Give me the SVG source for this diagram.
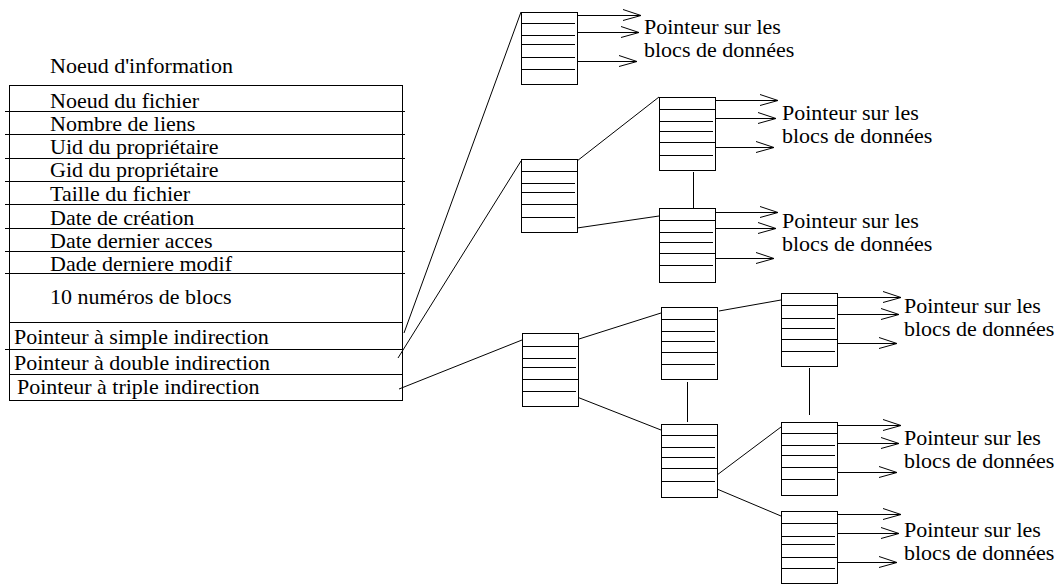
<svg xmlns="http://www.w3.org/2000/svg" width="1059" height="585" viewBox="0 0 1059 585">
<style>
text{font-family:'Liberation Serif','Times New Roman','DejaVu Serif',serif;font-size:22px;fill:#000}
.s{fill:none;stroke:#000;stroke-width:1}
.blk rect{fill:#fff;stroke:#000;stroke-width:1}
.blk line{stroke:#000;stroke-width:1}
.c line{stroke:#000;stroke-width:1}
.a{marker-end:url(#arr)}
</style>
<defs>
<marker id="arr" markerUnits="userSpaceOnUse" viewBox="-20 -10 22 20" markerWidth="22" markerHeight="20" refX="0" refY="0" orient="auto">
<path d="M-18,-6 L0,0 L-18,5" fill="none" stroke="#000" stroke-width="1"/>
</marker>
</defs>
<rect width="1059" height="585" fill="#fff"/>
<g id="inode">
<text x="50" y="73">Noeud d'information</text>
<rect class="s" x="9.5" y="85.5" width="393" height="315"/>
<g stroke="#000" stroke-width="1">
<line x1="5" y1="111.5" x2="405" y2="111.5"/>
<line x1="5" y1="134.5" x2="405" y2="134.5"/>
<line x1="5" y1="158.5" x2="405" y2="158.5"/>
<line x1="5" y1="181.5" x2="405" y2="181.5"/>
<line x1="5" y1="204.5" x2="405" y2="204.5"/>
<line x1="5" y1="228.5" x2="405" y2="228.5"/>
<line x1="5" y1="251.5" x2="405" y2="251.5"/>
<line x1="5" y1="273.5" x2="405" y2="273.5"/>
<line x1="9" y1="322.5" x2="403" y2="322.5"/>
<line x1="5" y1="349.5" x2="403" y2="349.5"/>
<line x1="9" y1="374.5" x2="403" y2="374.5"/>
</g>
<text x="50" y="108">Noeud du fichier</text>
<text x="50" y="131">Nombre de liens</text>
<text x="50" y="154">Uid du propriétaire</text>
<text x="50" y="177">Gid du propriétaire</text>
<text x="50" y="201">Taille du fichier</text>
<text x="50" y="225">Date de création</text>
<text x="50" y="248">Date dernier acces</text>
<text x="50" y="271">Dade derniere modif</text>
<text x="50" y="304">10 numéros de blocs</text>
<text x="14" y="344">Pointeur à simple indirection</text>
<text x="14" y="370">Pointeur à double indirection</text>
<text x="17" y="394">Pointeur à triple indirection</text>
</g>
<g id="connectors" class="c">
<line x1="404" y1="333" x2="521" y2="12"/>
<line x1="398" y1="358" x2="521" y2="161"/>
<line x1="399" y1="389" x2="522" y2="340"/>
<line x1="577" y1="161" x2="659" y2="97"/>
<line x1="577" y1="228" x2="659" y2="216"/>
<line x1="693.5" y1="172" x2="693.5" y2="208"/>
<line x1="579" y1="339" x2="661" y2="313"/>
<line x1="577" y1="397" x2="661" y2="430"/>
<line x1="687.5" y1="382" x2="687.5" y2="422"/>
<line x1="719" y1="311" x2="781" y2="300"/>
<line x1="809.5" y1="368" x2="809.5" y2="415"/>
<line x1="717" y1="475" x2="781" y2="427"/>
<line x1="717" y1="489" x2="781" y2="516"/>
<g class="arrows">
<line class="a" x1="577" y1="15.5" x2="641" y2="15.5"/>
<line class="a" x1="575" y1="32.5" x2="639" y2="32.5"/>
<line class="a" x1="575" y1="61.5" x2="637" y2="61.5"/>
<line class="a" x1="715" y1="100.5" x2="778" y2="100.5"/>
<line class="a" x1="713" y1="118.5" x2="776" y2="118.5"/>
<line class="a" x1="713" y1="147.5" x2="774" y2="147.5"/>
<line class="a" x1="715" y1="212.5" x2="778" y2="212.5"/>
<line class="a" x1="713" y1="228.5" x2="776" y2="228.5"/>
<line class="a" x1="713" y1="258.5" x2="774" y2="258.5"/>
<line class="a" x1="837" y1="297.5" x2="901" y2="297.5"/>
<line class="a" x1="835" y1="314.5" x2="899" y2="314.5"/>
<line class="a" x1="835" y1="343.5" x2="897" y2="343.5"/>
<line class="a" x1="837" y1="425.5" x2="901" y2="425.5"/>
<line class="a" x1="835" y1="443.5" x2="899" y2="443.5"/>
<line class="a" x1="835" y1="472.5" x2="897" y2="472.5"/>
<line class="a" x1="837" y1="514.5" x2="901" y2="514.5"/>
<line class="a" x1="835" y1="533.5" x2="899" y2="533.5"/>
<line class="a" x1="835" y1="562.5" x2="897" y2="562.5"/>
</g>
</g>
<g id="block1" class="blk">
<rect x="521.5" y="12.5" width="56" height="72"/>
<line x1="521" y1="23.5" x2="575" y2="23.5"/><line x1="521" y1="35.5" x2="575" y2="35.5"/><line x1="521" y1="44.5" x2="575" y2="44.5"/><line x1="521" y1="57.5" x2="575" y2="57.5"/><line x1="521" y1="69.5" x2="575" y2="69.5"/>
</g>
<g id="blockA" class="blk">
<rect x="521.5" y="159.5" width="56" height="73"/>
<line x1="521" y1="171.5" x2="577" y2="171.5"/><line x1="521" y1="183.5" x2="575" y2="183.5"/><line x1="521" y1="192.5" x2="575" y2="192.5"/><line x1="521" y1="204.5" x2="577" y2="204.5"/><line x1="521" y1="217.5" x2="575" y2="217.5"/>
</g>
<g id="blockB" class="blk">
<rect x="659.5" y="97.5" width="56" height="73"/>
<line x1="659" y1="109.5" x2="715" y2="109.5"/><line x1="659" y1="121.5" x2="713" y2="121.5"/><line x1="659" y1="131.5" x2="713" y2="131.5"/><line x1="659" y1="142.5" x2="715" y2="142.5"/><line x1="659" y1="155.5" x2="713" y2="155.5"/>
</g>
<g id="blockC" class="blk">
<rect x="659.5" y="208.5" width="56" height="74"/>
<line x1="659" y1="220.5" x2="715" y2="220.5"/><line x1="659" y1="232.5" x2="713" y2="232.5"/><line x1="659" y1="242.5" x2="713" y2="242.5"/><line x1="659" y1="253.5" x2="715" y2="253.5"/><line x1="659" y1="265.5" x2="713" y2="265.5"/>
</g>
<g id="blockD" class="blk">
<rect x="522.5" y="333.5" width="56" height="73"/>
<line x1="522" y1="346.5" x2="578" y2="346.5"/><line x1="522" y1="358.5" x2="576" y2="358.5"/><line x1="522" y1="367.5" x2="576" y2="367.5"/><line x1="522" y1="379.5" x2="578" y2="379.5"/><line x1="522" y1="391.5" x2="576" y2="391.5"/>
</g>
<g id="blockE" class="blk">
<rect x="661.5" y="307.5" width="56" height="72"/>
<line x1="661" y1="319.5" x2="717" y2="319.5"/><line x1="661" y1="331.5" x2="715" y2="331.5"/><line x1="661" y1="341.5" x2="715" y2="341.5"/><line x1="661" y1="352.5" x2="717" y2="352.5"/><line x1="661" y1="364.5" x2="715" y2="364.5"/>
</g>
<g id="blockF" class="blk">
<rect x="661.5" y="424.5" width="56" height="73"/>
<line x1="661" y1="435.5" x2="717" y2="435.5"/><line x1="661" y1="447.5" x2="715" y2="447.5"/><line x1="661" y1="457.5" x2="715" y2="457.5"/><line x1="661" y1="468.5" x2="717" y2="468.5"/><line x1="661" y1="481.5" x2="715" y2="481.5"/>
</g>
<g id="blockG" class="blk">
<rect x="781.5" y="293.5" width="56" height="73"/>
<line x1="781" y1="305.5" x2="837" y2="305.5"/><line x1="781" y1="318.5" x2="835" y2="318.5"/><line x1="781" y1="328.5" x2="835" y2="328.5"/><line x1="781" y1="339.5" x2="837" y2="339.5"/><line x1="781" y1="351.5" x2="835" y2="351.5"/>
</g>
<g id="blockH" class="blk">
<rect x="781.5" y="422.5" width="56" height="73"/>
<line x1="781" y1="433.5" x2="837" y2="433.5"/><line x1="781" y1="445.5" x2="835" y2="445.5"/><line x1="781" y1="455.5" x2="835" y2="455.5"/><line x1="781" y1="467.5" x2="837" y2="467.5"/><line x1="781" y1="479.5" x2="835" y2="479.5"/>
</g>
<g id="blockI" class="blk">
<rect x="781.5" y="511.5" width="56" height="72"/>
<line x1="781" y1="523.5" x2="837" y2="523.5"/><line x1="781" y1="536.5" x2="835" y2="536.5"/><line x1="781" y1="544.5" x2="835" y2="544.5"/><line x1="781" y1="557.5" x2="837" y2="557.5"/><line x1="781" y1="568.5" x2="835" y2="568.5"/>
</g>
<g id="labels">
<text x="644" y="34">Pointeur sur les</text><text x="644" y="57">blocs de données</text>
<text x="782" y="120">Pointeur sur les</text><text x="782" y="143">blocs de données</text>
<text x="782" y="228">Pointeur sur les</text><text x="782" y="251">blocs de données</text>
<text x="904" y="313">Pointeur sur les</text><text x="904" y="336">blocs de données</text>
<text x="904" y="445">Pointeur sur les</text><text x="904" y="468">blocs de données</text>
<text x="904" y="537">Pointeur sur les</text><text x="904" y="560">blocs de données</text>
</g>
</svg>
